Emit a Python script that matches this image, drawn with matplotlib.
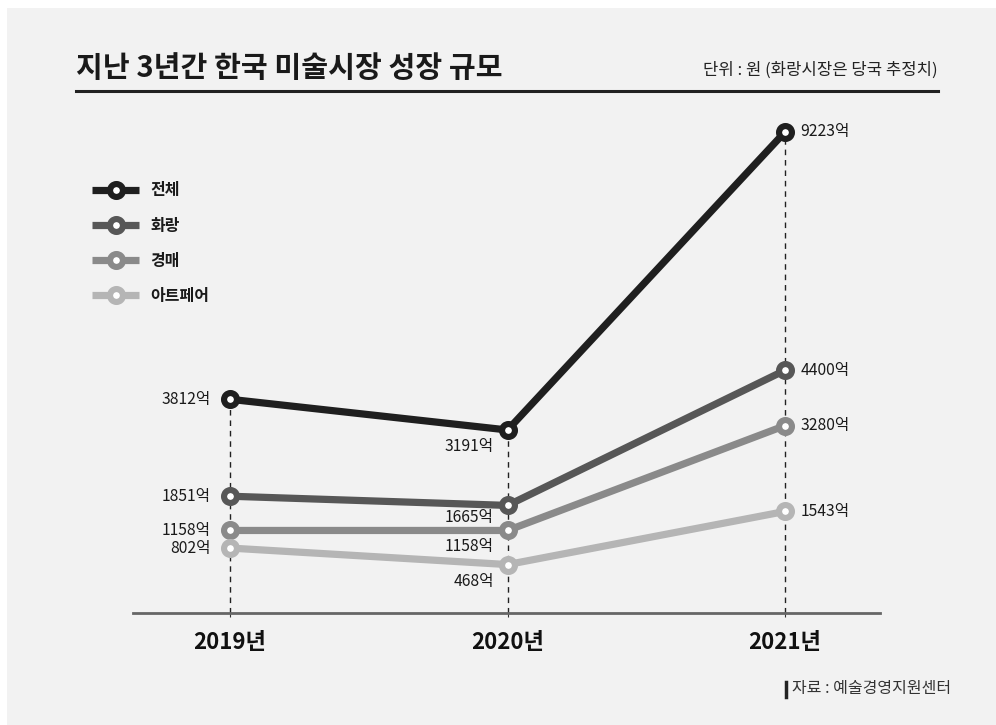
import matplotlib
matplotlib.use("Agg")
import matplotlib.pyplot as plt
from matplotlib.patches import Rectangle
from matplotlib.lines import Line2D

plt.rcParams['font.family'] = ['Noto Sans CJK KR', 'DejaVu Sans']

# 연도별 시장 규모 (단위: 억 원)
years = ['2019년', '2020년', '2021년']
total = [3812, 3191, 9223]
gallery = [1851, 1665, 4400]
auction = [1158, 1158, 3280]
artfair = [802, 468, 1543]

series_names = ['전체', '화랑', '경매', '아트페어']
series_values = [total, gallery, auction, artfair]
series_colors = ['#1f1f1f', '#575757', '#8a8a8a', '#b5b5b5']

W, H = 996, 725
fig = plt.figure(figsize=(W / 100, H / 100), dpi=100)
fig.patch.set_facecolor('white')

# 회색 배경 판
fig.add_artist(Rectangle((7 / W, 0), 1, 1 - 8 / H, transform=fig.transFigure,
                         facecolor='#f2f2f2', edgecolor='none', zorder=-10))

ax = fig.add_axes([133 / W, 1 - 613 / H, 747 / W, 513 / H])
ax.set_facecolor('none')

x = list(range(len(years)))
for name, vals, col in zip(series_names, series_values, series_colors):
    ax.plot(x, vals, color=col, lw=5.2, marker='o', ms=9.3, mew=4.4,
            mfc='white', mec=col, solid_capstyle='butt', label=name, zorder=3)

ax.set_xlim(-0.35, 2.342)
ax.set_ylim(-512, 9868)

# 각 연도의 최댓값에서 축까지 점선
for i in x:
    top = max(v[i] for v in series_values)
    ax.vlines(i, -512, top, colors='#222222', lw=1.0, linestyles=(0, (4, 3.5)), zorder=1)

# 값 라벨 (2020년 라벨은 선 사이 빈 곳에 배치)
mid_offsets = [-12, -9, -11.5, -12]
for vals, dy in zip(series_values, mid_offsets):
    ax.annotate(f'{vals[0]}억', (0, vals[0]), xytext=(-14, 0), textcoords='offset points',
                ha='right', va='center', fontsize=11.3, color='#1a1a1a')
    ax.annotate(f'{vals[1]}억', (1, vals[1]), xytext=(-10, dy), textcoords='offset points',
                ha='right', va='center', fontsize=11.3, color='#1a1a1a')
    ax.annotate(f'{vals[2]}억', (2, vals[2]), xytext=(11, 0), textcoords='offset points',
                ha='left', va='center', fontsize=11.3, color='#1a1a1a')

for s in ['top', 'left', 'right']:
    ax.spines[s].set_visible(False)
ax.spines['bottom'].set_color('#666666')
ax.spines['bottom'].set_linewidth(2)
ax.set_yticks([])
ax.set_xticks(x)
ax.set_xticklabels(years, fontsize=16, fontweight='bold', color='#111111')
ax.tick_params(axis='x', length=3, width=0.8, color='#333333', pad=10)

leg = ax.legend(loc='upper left', bbox_to_anchor=(78 / W, 1 - 168 / H),
                bbox_transform=fig.transFigure, frameon=False, numpoints=1,
                handlelength=2.9, handletextpad=0.75, labelspacing=1.2,
                prop={'size': 11.5, 'weight': 'bold'})
for t in leg.get_texts():
    t.set_color('#1a1a1a')

# 제목과 구분선
fig.text(76 / W, 1 - 68 / H, '지난 3년간 한국 미술시장 성장 규모', fontsize=21,
         fontweight='bold', color='#1a1a1a', ha='left', va='center')
fig.text(938 / W, 1 - 70 / H, '단위 : 원 (화랑시장은 당국 추정치)', fontsize=12,
         color='#222222', ha='right', va='center')
fig.add_artist(Line2D([76 / W, 938 / W], [1 - 91 / H, 1 - 91 / H],
                      transform=fig.transFigure, color='#222222', lw=2.2))

# 출처
fig.add_artist(Line2D([786 / W, 786 / W], [1 - 682 / H, 1 - 697 / H],
                      transform=fig.transFigure, color='#222222', lw=2.5))
fig.text(792 / W, 1 - 689 / H, '자료 : 예술경영지원센터', fontsize=11.5,
         color='#333333', ha='left', va='center')

fig.savefig('out.png', dpi=100, facecolor=fig.get_facecolor())
